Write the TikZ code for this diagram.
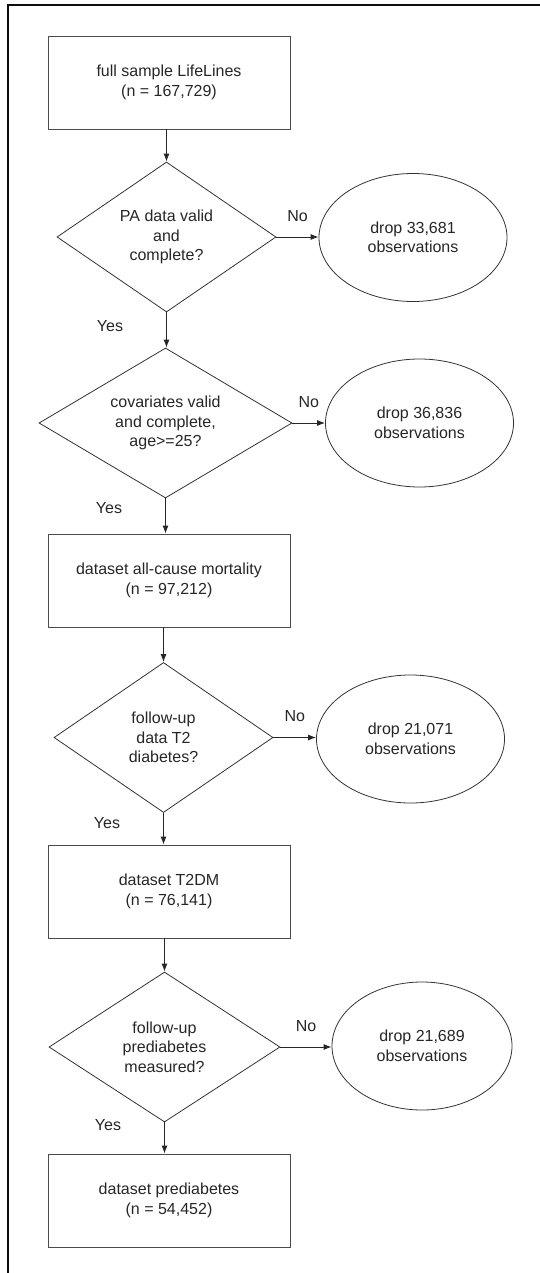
\documentclass[tikz,border=0pt]{standalone}
\usepackage{fontspec}
\setmainfont{Liberation Sans}
\usetikzlibrary{arrows.meta,shapes.geometric}

\begin{document}
\begin{tikzpicture}[x=1pt, y=-1pt, >={Latex[length=8pt,width=6pt]},
        every node/.style={font=\fontsize{16}{19.5}\selectfont, text=black!85},
        stepbox/.style={draw=black!70, line width=0.9pt, minimum width=242pt, minimum height=93pt, align=center, inner sep=0pt},
        query/.style={draw=black!80, line width=0.8pt, diamond, shape aspect=1.46, minimum width=219pt, minimum height=150pt, align=center, inner sep=0pt},
        drop/.style={draw=black!80, line width=0.8pt, ellipse, minimum width=188pt, minimum height=128pt, align=center, inner sep=0pt},
        flow/.style={->, line width=0.9pt, black!85},
        lbl/.style={inner sep=0pt}]
        \useasboundingbox (0,0) rectangle (540,1273);
        % 外框
        \draw [line width=2.6pt, black!95] (540,5) -- (8,5) -- (8,1273);
        % 主流程
        \node [stepbox] (full) at (169,82.5) {full sample LifeLines\\(n = 167,729)};
        \node [query] (pa) at (166.5,237) {PA data valid\\and\\complete?};
        \node [query, minimum width=253pt] (cov) at (165.5,423) {covariates valid\\and complete,\\age>=25?};
        \node [stepbox] (mort) at (169,580.5) {dataset all-cause mortality\\(n = 97,212)};
        \node [query] (t2fu) at (163.5,737.5) {follow-up\\data T2\\diabetes?};
        \node [stepbox] (t2dm) at (169,891.5) {dataset T2DM\\(n = 76,141)};
        \node [query, minimum width=231pt] (prefu) at (164.5,1047) {follow-up\\prediabetes\\measured?};
        \node [stepbox] (pre) at (169,1200.5) {dataset prediabetes\\(n = 54,452)};
        % 剔除
        \node [drop] (drop1) at (413,237.5) {drop 33,681\\observations};
        \node [drop] (drop2) at (419.5,423) {drop 36,836\\observations};
        \node [drop] (drop3) at (410.5,739) {drop 21,071\\observations};
        \node [drop, minimum width=180pt] (drop4) at (422,1046) {drop 21,689\\observations};
        % 箭头
        \draw [flow] (pa.north |- full.south) -- (pa.north);
        \draw [flow] (pa.south) -- (pa.south |- cov.north) node [lbl, pos=.39, left=43pt] {Yes};
        \draw [flow] (cov.south) -- (cov.south |- mort.north) node [lbl, pos=.28, left=43pt] {Yes};
        \draw [flow] (t2fu.north |- mort.south) -- (t2fu.north);
        \draw [flow] (t2fu.south) -- (t2fu.south |- t2dm.north) node [lbl, pos=.31, left=43pt] {Yes};
        \draw [flow] (prefu.north |- t2dm.south) -- (prefu.north);
        \draw [flow] (prefu.south) -- (prefu.south |- pre.north) node [lbl, pos=.1, left=43pt] {Yes};
        \draw [flow] (pa.east) -- (pa.east -| drop1.west) node [lbl, midway, above=15pt] {No};
        \draw [flow] (cov.east) -- (cov.east -| drop2.west) node [lbl, midway, above=15pt] {No};
        \draw [flow] (t2fu.east) -- (t2fu.east -| drop3.west) node [lbl, midway, above=15pt] {No};
        \draw [flow] (prefu.east) -- (prefu.east -| drop4.west) node [lbl, midway, above=15pt] {No};
    \end{tikzpicture}
\end{document}
